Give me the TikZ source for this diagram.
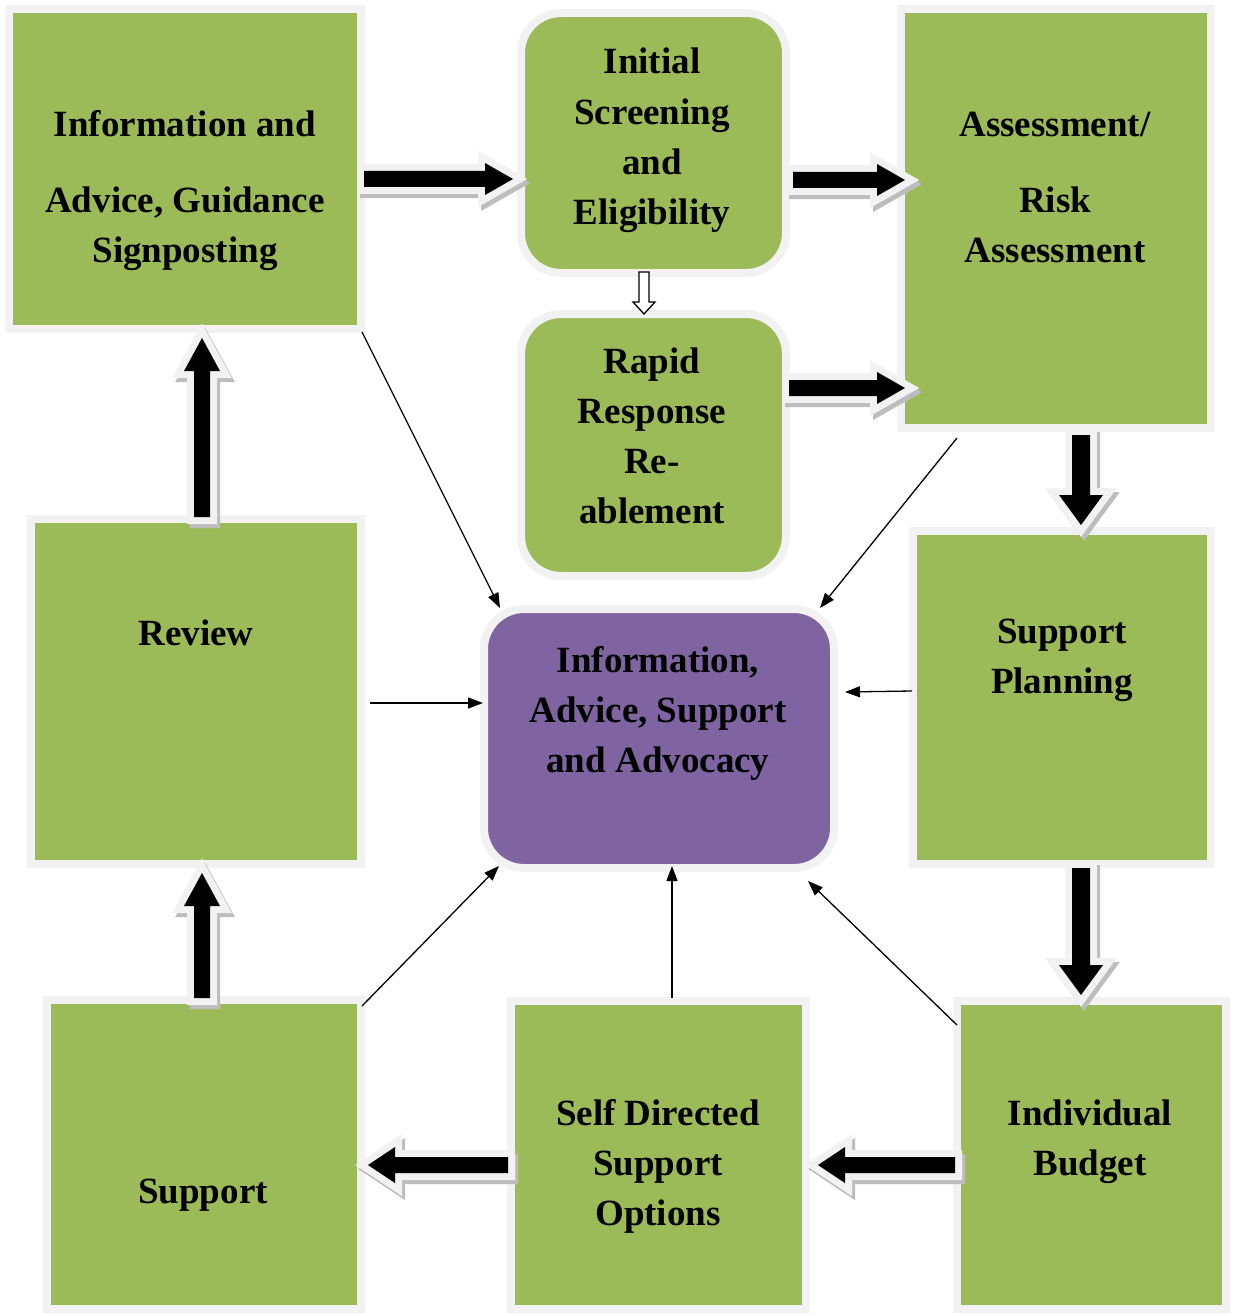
\documentclass[tikz,border=0pt]{standalone}
\usepackage{fontspec}
\setmainfont{Liberation Serif}
\usetikzlibrary{arrows.meta,backgrounds,calc}
\definecolor{boxgreen}{HTML}{9BBB59}
\definecolor{boxpurple}{HTML}{8064A2}
\definecolor{bordc}{HTML}{F2F2F2}
\definecolor{shgreen}{HTML}{A7AE94}
\definecolor{shpurple}{HTML}{A8A0B4}
\definecolor{sharrow}{HTML}{BDBDBD}
\tikzset{
  pics/barrow/.style args={#1/#2/#3/#4}{code={
    \path[fill=bordc, draw=bordc, line width=14pt, line join=miter, miter limit=20]
      (0,-#2) -- (#1-#4,-#2) -- (#1-#4,-#3) -- (#1,0) -- (#1-#4,#3) -- (#1-#4,#2) -- (0,#2) -- cycle;
    \fill[black]
      (0,-#2) -- (#1-#4,-#2) -- (#1-#4,-#3) -- (#1,0) -- (#1-#4,#3) -- (#1-#4,#2) -- (0,#2) -- cycle;
  }},
  pics/barrowshadow/.style args={#1/#2/#3/#4}{code={
    \path[fill=sharrow, draw=sharrow, line width=14pt, line join=miter, miter limit=20]
      (0,-#2) -- (#1-#4,-#2) -- (#1-#4,-#3) -- (#1,0) -- (#1-#4,#3) -- (#1-#4,#2) -- (0,#2) -- cycle;
  }},
  pics/warrow/.style args={#1/#2/#3/#4}{code={
    \path[fill=white, draw=black, line width=1.3pt, line join=miter]
      (0,-#2) -- (#1-#4,-#2) -- (#1-#4,-#3) -- (#1,0) -- (#1-#4,#3) -- (#1-#4,#2) -- (0,#2) -- cycle;
  }},
}
\newcommand\BigArrow[3]{% start coordinate, angle, params
  \path ($(#1)+(3,4)$) pic[rotate=#2] {barrowshadow=#3};
  \path (#1) pic[rotate=#2] {barrow=#3};
}
\begin{document}
\begin{tikzpicture}[x=1pt,y=-1pt,
  gbox/.style={rectangle, draw=bordc, line width=8pt, fill=boxgreen, outer sep=4pt, inner sep=0pt},
  rbox/.style={gbox, rounded corners=40pt},
  pbox/.style={rbox, fill=boxpurple},
  txt/.style={font=\bfseries\fontsize{37}{50}\selectfont, align=center, inner sep=0pt, anchor=base},
  thin/.style={line width=1.3pt, -{Triangle[length=15pt,width=11pt]}},
]
\fill[white] (0,0) rectangle (1235,1316);
\useasboundingbox (0,0) rectangle (1235,1316);

% boxes
\node[gbox, minimum width=352pt, minimum height=320pt] (b1) at (185,169) {};
\node[rbox, minimum width=265pt, minimum height=260pt] (b2) at (653.5,143) {};
\node[rbox, minimum width=265pt, minimum height=262pt] (b3) at (653.5,445) {};
\node[gbox, minimum width=310pt, minimum height=419pt] (b4) at (1056,218.5) {};
\node[gbox, minimum width=298pt, minimum height=333pt] (b5) at (1062,697.5) {};
\node[gbox, minimum width=330pt, minimum height=345pt] (b6) at (196,691.5) {};
\node[gbox, minimum width=314pt, minimum height=309pt] (b7) at (204,1154.5) {};
\node[gbox, minimum width=295pt, minimum height=308pt] (b8) at (658.5,1155) {};
\node[gbox, minimum width=269pt, minimum height=308pt] (b9) at (1091.5,1155) {};
\node[pbox, minimum width=350pt, minimum height=259pt] (b10) at (659,738.5) {};

\begin{scope}[on background layer]
  \foreach \b in {b1,b4,b5,b6,b7,b8,b9}
    \fill[shgreen] ($(\b.north west)+(3,5)$) rectangle ($(\b.south east)+(3,5)$);
  \foreach \b in {b2,b3}
    \fill[shgreen, rounded corners=44pt] ($(\b.north west)+(3,5)$) rectangle ($(\b.south east)+(3,5)$);
  \fill[shpurple, rounded corners=44pt] ($(b10.north west)+(3,5)$) rectangle ($(b10.south east)+(3,5)$);
\end{scope}

% texts (anchor = baseline of last line)
\node[txt] (t1) at (185,262) {Information and\\[26pt]Advice, Guidance\\Signposting};
\node[txt] (t2) at (652,224) {Initial\\Screening\\and\\Eligibility};
\node[txt] (t3) at (652,523) {Rapid\\Response\\Re-\\ablement};
\node[txt] (t4) at (1055,262) {Assessment/\\[26pt]Risk\\Assessment};
\node[txt] (t5) at (1062,693) {Support\\Planning};
\node[txt] (t6) at (196,645) {Review};
\node[txt] (t10) at (658,772) {Information,\\Advice, Support\\and Advocacy};
\node[txt] (t7) at (203,1203) {Support};
\node[txt] (t8) at (658,1225) {Self Directed\\Support\\Options};
\node[txt] (t9) at (1090,1175) {Individual\\Budget};

% block arrows
\coordinate (a1) at (364,179);
\coordinate (a2) at (793,180);
\coordinate (a3) at (789,388);
\coordinate (a4) at (1081,435);
\coordinate (a5) at (1081,868);
\coordinate (a6) at (955,1165);
\coordinate (a7) at (508,1165);
\coordinate (a8) at (202,998);
\coordinate (a9) at (202,517);
\BigArrow{a1}{0}{149/8/16/28}
\BigArrow{a2}{0}{112/8/16/28}
\BigArrow{a3}{0}{116/8/16/28}
\BigArrow{a4}{-90}{90/9/22/30}
\BigArrow{a5}{-90}{127/9/22/30}
\BigArrow{a6}{180}{137/8/18/27}
\BigArrow{a7}{180}{140/8/18/27}
\BigArrow{a8}{90}{125/8/18/33}
\BigArrow{a9}{90}{179/8/18/33}

% small white arrow
\coordinate (w1) at (644,272);
\path (w1) pic[rotate=-90] {warrow=42/5/11/12};

% thin connectors
\coordinate (c1s) at (362,332);  \coordinate (c1e) at (500,608);
\coordinate (c2s) at (957,438);  \coordinate (c2e) at (820,608);
\coordinate (c3s) at (912,691);  \coordinate (c3e) at (845,692);
\coordinate (c4s) at (370,703);  \coordinate (c4e) at (483,703);
\coordinate (c5s) at (362,1006); \coordinate (c5e) at (499,866);
\coordinate (c6s) at (672,998);  \coordinate (c6e) at (672,866);
\coordinate (c7s) at (957,1025); \coordinate (c7e) at (808,881);
\draw[thin] (c1s) -- (c1e);
\draw[thin] (c2s) -- (c2e);
\draw[thin] (c3s) -- (c3e);
\draw[thin] (c4s) -- (c4e);
\draw[thin] (c5s) -- (c5e);
\draw[thin] (c6s) -- (c6e);
\draw[thin] (c7s) -- (c7e);
\end{tikzpicture}
\end{document}
